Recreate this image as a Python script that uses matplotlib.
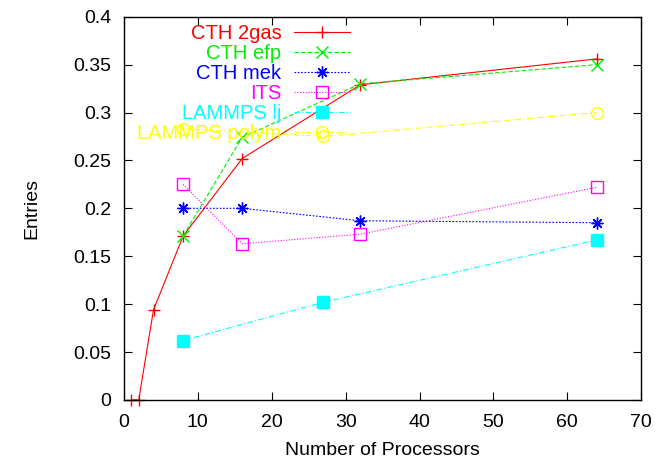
import matplotlib

matplotlib.use("Agg", force=True)
import matplotlib.pyplot as plt

plt.rcParams["font.family"] = ["Liberation Sans", "DejaVu Sans"]

# data
cth_2gas_x = [1, 2, 4, 8, 16, 32, 64]
cth_2gas_y = [0.0, 0.0, 0.094, 0.171, 0.252, 0.329, 0.356]
cth_efp_x = [8, 16, 32, 64]
cth_efp_y = [0.171, 0.274, 0.330, 0.350]
cth_mek_x = [8, 16, 32, 64]
cth_mek_y = [0.200, 0.200, 0.187, 0.185]
its_x = [8, 16, 32, 64]
its_y = [0.225, 0.163, 0.173, 0.222]
lammps_lj_x = [8, 27, 64]
lammps_lj_y = [0.062, 0.102, 0.167]
lammps_polym_x = [8, 27, 64]
lammps_polym_y = [0.283, 0.275, 0.300]

series = [
    ("CTH 2gas", cth_2gas_x, cth_2gas_y, "#ff0000", "-", "+", "#ff0000"),
    ("CTH efp", cth_efp_x, cth_efp_y, "#00ee00", (0, (4, 2)), "x", "#00ee00"),
    ("CTH mek", cth_mek_x, cth_mek_y, "#0000ff", (0, (1.5, 1.5)), (8, 2, 0), "#0000ff"),
    ("ITS", its_x, its_y, "#ff00ff", (0, (1, 1.5)), "s", "none"),
    ("LAMMPS lj", lammps_lj_x, lammps_lj_y, "#00ffff", (0, (5, 2, 1, 2)), "s", "#00ffff"),
    ("LAMMPS polym", lammps_polym_x, lammps_polym_y, "#ffff00", (0, (5, 2, 1, 2)), "o", "none"),
]

fig = plt.figure(figsize=(6.7, 4.65), dpi=100)
ax = fig.add_axes([0.185, 0.14, 0.772, 0.824])

for label, xs, ys, color, ls, marker, mfc in series:
    ax.plot(xs, ys, color=color, linestyle=ls, linewidth=0.8, marker=marker,
            markersize=8.5, markerfacecolor=mfc, markeredgecolor=color,
            markeredgewidth=1.0, label=label, clip_on=False)

ax.set_xlim(0, 70)
ax.set_ylim(0, 0.4)
ax.set_xticks(range(0, 71, 10))
ax.set_yticks([0, 0.05, 0.1, 0.15, 0.2, 0.25, 0.3, 0.35, 0.4])
ax.set_yticklabels(["0", "0.05", "0.1", "0.15", "0.2", "0.25", "0.3", "0.35", "0.4"])
ax.tick_params(direction="in", top=True, right=True, labelsize=14, length=6)
ax.tick_params(axis="y", pad=9)
ax.tick_params(axis="x", pad=10)
ax.set_xlabel("Number of Processors", fontsize=14, labelpad=8)
ax.set_ylabel("Entries", fontsize=14, labelpad=24)
for s in ax.spines.values():
    s.set_linewidth(1.0)

# gnuplot-style key: right-aligned coloured labels, sample to the right
ax.legend(loc="upper right", bbox_to_anchor=(350 / 670, (465 - 24) / 465),
          bbox_transform=fig.transFigure, frameon=False, markerfirst=False,
          fontsize=14.5, labelspacing=0.05, handlelength=2.8, handletextpad=0.6,
          borderpad=0, borderaxespad=0, labelcolor="linecolor")

fig.savefig("out.png", dpi=100)
plt.close(fig)
